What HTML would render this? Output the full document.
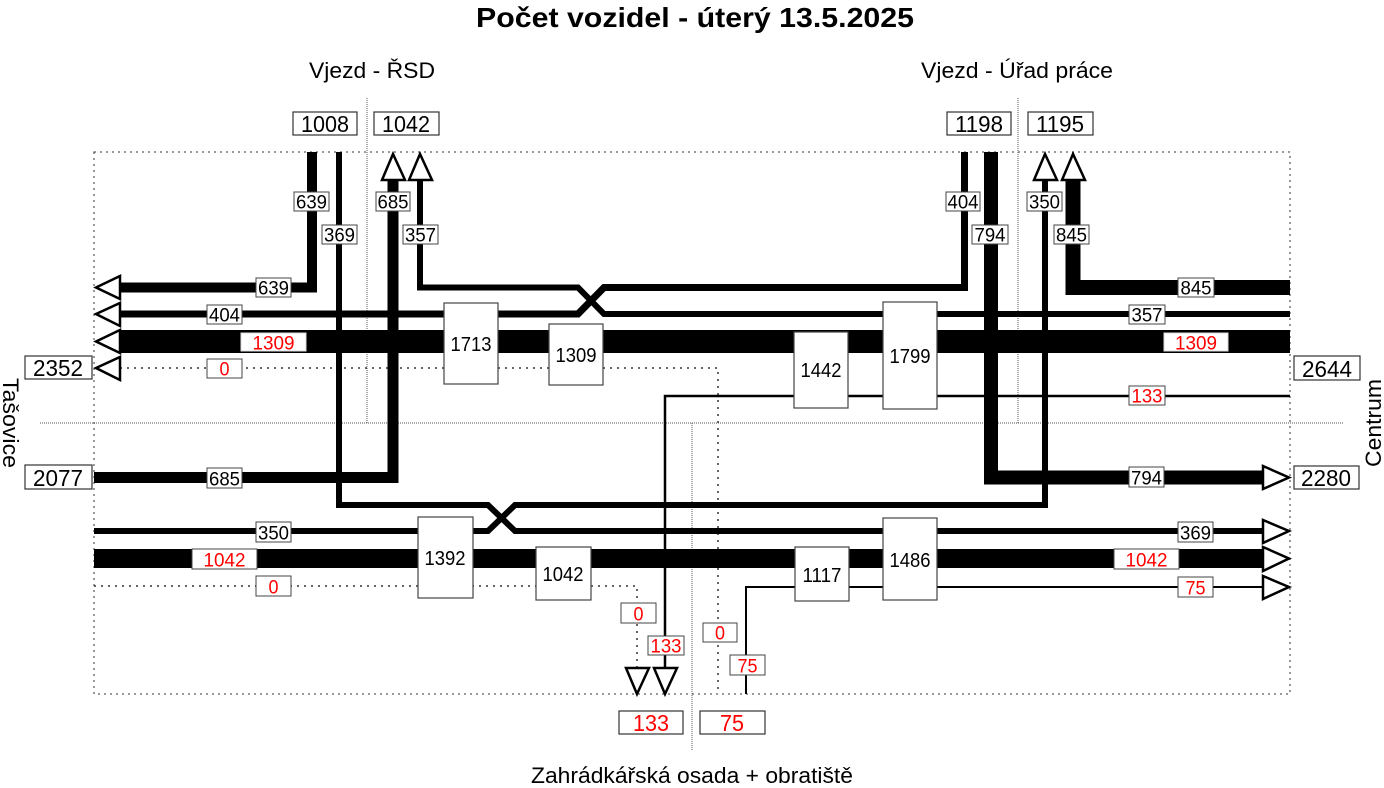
<!DOCTYPE html>
<html><head><meta charset="utf-8"><style>
html,body{margin:0;padding:0;background:#fff;}
svg{display:block;}
text{font-family:"Liberation Sans",Arial,sans-serif;}
</style></head><body>
<svg width="1384" height="788" viewBox="0 0 1384 788" xmlns="http://www.w3.org/2000/svg">
<rect width="1384" height="788" fill="#fff"/>
<text x="695" y="27" font-size="28" font-weight="bold" text-anchor="middle" textLength="438" lengthAdjust="spacingAndGlyphs">Počet vozidel - úterý 13.5.2025</text>
<text x="372" y="78" font-size="22" text-anchor="middle" textLength="126" lengthAdjust="spacingAndGlyphs">Vjezd - ŘSD</text>
<text x="1017" y="78" font-size="22" text-anchor="middle" textLength="192" lengthAdjust="spacingAndGlyphs">Vjezd - Úřad práce</text>
<text x="692" y="783" font-size="22" text-anchor="middle" textLength="322" lengthAdjust="spacingAndGlyphs">Zahrádkářská osada + obratiště</text>
<text transform="translate(3,423) rotate(90)" font-size="22" text-anchor="middle" textLength="90" lengthAdjust="spacingAndGlyphs">Tašovice</text>
<text transform="translate(1381,423) rotate(-90)" font-size="22" text-anchor="middle" textLength="88" lengthAdjust="spacingAndGlyphs">Centrum</text>

<g fill="none" stroke="#333" stroke-width="1" stroke-dasharray="2,4">
<rect x="94" y="152" width="1196" height="542"/>
</g>
<g fill="none" stroke="#555" stroke-width="1" stroke-dasharray="1,1">
<line x1="367" y1="98" x2="367" y2="423"/>
<line x1="1018" y1="98" x2="1018" y2="423"/>
<line x1="40" y1="423" x2="1344" y2="423"/>
<line x1="692" y1="423" x2="692" y2="750"/>
</g>

<g fill="none" stroke="#333" stroke-width="1.5" stroke-dasharray="2,5">
<path d="M120,368 H718 V694"/>
<path d="M94,586 H637 V667"/>
</g>

<g fill="none" stroke="#000" stroke-linejoin="miter">
<path d="M312,152 V287.5 H120" stroke-width="10"/>
<path d="M339,152 V505 H488 L515,531 H1262" stroke-width="6"/>
<path d="M393,180 V477.5 H94" stroke-width="11"/>
<path d="M420,180 V287.5 H578 L604,314 H1290" stroke-width="6"/>
<path d="M964.5,152 V287.5 H604 L578,314 H120" stroke-width="7"/>
<path d="M991,152 V477.5 H1262" stroke-width="14"/>
<path d="M1045,180 V505 H515 L488,531 H94" stroke-width="6"/>
<path d="M1073,180 V287.5 H1290" stroke-width="15"/>
<path d="M120,341.5 H1290" stroke-width="23"/>
<path d="M94,558.5 H1262" stroke-width="19"/>
<path d="M1290,396 H665 V667" stroke-width="2.5"/>
<path d="M1262,587 H746 V694" stroke-width="2"/>
</g>

<g fill="#fff" stroke="#000" stroke-width="2.5" stroke-linejoin="miter">
<polygon points="96,287.5 120,276 120,299"/>
<polygon points="96,314 120,303 120,326"/>
<polygon points="96,341.5 120,330 120,353"/>
<polygon points="96,368 120,357 120,380"/>
<polygon points="1289,477.5 1263,466 1263,489"/>
<polygon points="1289,531 1263,520 1263,543"/>
<polygon points="1289,558.5 1263,547 1263,571"/>
<polygon points="1289,587 1263,576 1263,599"/>
<polygon points="393,154 382,180 405,180"/>
<polygon points="420,154 409,180 432,180"/>
<polygon points="1045,154 1034,180 1057,180"/>
<polygon points="1073,154 1062,180 1085,180"/>
<polygon points="637,694 626,668 649,668"/>
<polygon points="665,694 654,668 677,668"/>
</g>

<g fill="#fff" stroke="#444" stroke-width="1.2">
<rect x="444" y="303" width="54" height="81"/>
<rect x="549" y="324" width="54" height="61"/>
<rect x="794" y="332" width="54" height="76"/>
<rect x="883" y="302" width="54" height="107"/>
<rect x="418" y="517" width="55" height="81"/>
<rect x="536" y="547" width="55" height="53"/>
<rect x="795" y="547" width="54" height="54"/>
<rect x="883" y="518" width="54" height="82"/>
</g>
<g font-size="20" text-anchor="middle">
<text x="471" y="351" textLength="41" lengthAdjust="spacingAndGlyphs">1713</text>
<text x="576" y="362" textLength="41" lengthAdjust="spacingAndGlyphs">1309</text>
<text x="821" y="377" textLength="41" lengthAdjust="spacingAndGlyphs">1442</text>
<text x="910" y="363" textLength="41" lengthAdjust="spacingAndGlyphs">1799</text>
<text x="445" y="565" textLength="41" lengthAdjust="spacingAndGlyphs">1392</text>
<text x="563" y="581" textLength="41" lengthAdjust="spacingAndGlyphs">1042</text>
<text x="822" y="582" textLength="39" lengthAdjust="spacingAndGlyphs">1117</text>
<text x="910" y="567" textLength="41" lengthAdjust="spacingAndGlyphs">1486</text>
</g>

<g fill="#fff" stroke="#333" stroke-width="1.2">
<rect x="293" y="112" width="64" height="23"/>
<rect x="374" y="112" width="65" height="23"/>
<rect x="947" y="112" width="64" height="23"/>
<rect x="1028" y="112" width="65" height="23"/>
<rect x="25" y="356" width="67" height="23"/>
<rect x="25" y="465" width="67" height="24"/>
<rect x="1294" y="356" width="66" height="24"/>
<rect x="1294" y="466" width="65" height="23"/>
<rect x="619" y="711" width="64" height="23"/>
<rect x="700" y="711" width="65" height="23"/>
</g>
<g font-size="23" text-anchor="middle">
<text x="325" y="132" textLength="48" lengthAdjust="spacingAndGlyphs">1008</text>
<text x="406" y="132" textLength="48" lengthAdjust="spacingAndGlyphs">1042</text>
<text x="979" y="132" textLength="48" lengthAdjust="spacingAndGlyphs">1198</text>
<text x="1060" y="132" textLength="48" lengthAdjust="spacingAndGlyphs">1195</text>
<text x="58" y="376" textLength="50" lengthAdjust="spacingAndGlyphs">2352</text>
<text x="58" y="486" textLength="50" lengthAdjust="spacingAndGlyphs">2077</text>
<text x="1327" y="377" textLength="50" lengthAdjust="spacingAndGlyphs">2644</text>
<text x="1326" y="486" textLength="50" lengthAdjust="spacingAndGlyphs">2280</text>
<text x="651" y="731" fill="#f00" textLength="36" lengthAdjust="spacingAndGlyphs">133</text>
<text x="732" y="731" fill="#f00" textLength="24" lengthAdjust="spacingAndGlyphs">75</text>
</g>

<g fill="#fff" stroke="#444" stroke-width="1">
<rect x="294" y="192" width="35" height="19"/>
<rect x="322" y="225" width="35" height="19"/>
<rect x="376" y="192" width="34" height="19"/>
<rect x="403" y="225" width="35" height="19"/>
<rect x="256" y="278" width="35" height="19"/>
<rect x="207" y="305" width="35" height="19"/>
<rect x="241" y="333" width="65" height="18" stroke="#ddd"/>
<rect x="207" y="359" width="35" height="19"/>
<rect x="946" y="192" width="34" height="19"/>
<rect x="972" y="225" width="36" height="19"/>
<rect x="1027" y="192" width="35" height="19"/>
<rect x="1054" y="225" width="35" height="19"/>
<rect x="1178" y="278" width="36" height="19"/>
<rect x="1129" y="305" width="36" height="19"/>
<rect x="1164" y="333" width="64" height="18" stroke="#ddd"/>
<rect x="1129" y="386" width="36" height="19"/>
<rect x="207" y="468" width="35" height="20"/>
<rect x="1129" y="467" width="35" height="20"/>
<rect x="256" y="522" width="35" height="20"/>
<rect x="1178" y="522" width="35" height="20"/>
<rect x="192" y="549" width="65" height="20"/>
<rect x="1114" y="549" width="65" height="20"/>
<rect x="256" y="576" width="35" height="20"/>
<rect x="1178" y="577" width="35" height="20"/>
<rect x="621" y="603" width="35" height="20"/>
<rect x="648" y="636" width="36" height="19"/>
<rect x="703" y="623" width="34" height="19"/>
<rect x="730" y="655" width="35" height="20"/>
</g>
<g font-size="19.5" text-anchor="middle">
<text x="311.5" y="208.5" textLength="31" lengthAdjust="spacingAndGlyphs">639</text>
<text x="339.5" y="241.5" textLength="31" lengthAdjust="spacingAndGlyphs">369</text>
<text x="393" y="208.5" textLength="31" lengthAdjust="spacingAndGlyphs">685</text>
<text x="420.5" y="241.5" textLength="31" lengthAdjust="spacingAndGlyphs">357</text>
<text x="273.5" y="294.5" textLength="31" lengthAdjust="spacingAndGlyphs">639</text>
<text x="224.5" y="321.5" textLength="31" lengthAdjust="spacingAndGlyphs">404</text>
<text x="273.5" y="349.5" fill="#f00" textLength="42" lengthAdjust="spacingAndGlyphs">1309</text>
<text x="224.5" y="375.5" fill="#f00" textLength="10" lengthAdjust="spacingAndGlyphs">0</text>
<text x="963" y="208.5" textLength="31" lengthAdjust="spacingAndGlyphs">404</text>
<text x="990" y="241.5" textLength="31" lengthAdjust="spacingAndGlyphs">794</text>
<text x="1044.5" y="208.5" textLength="31" lengthAdjust="spacingAndGlyphs">350</text>
<text x="1071.5" y="241.5" textLength="31" lengthAdjust="spacingAndGlyphs">845</text>
<text x="1196" y="294.5" textLength="31" lengthAdjust="spacingAndGlyphs">845</text>
<text x="1147" y="321.5" textLength="31" lengthAdjust="spacingAndGlyphs">357</text>
<text x="1196" y="349.5" fill="#f00" textLength="42" lengthAdjust="spacingAndGlyphs">1309</text>
<text x="1147" y="402.5" fill="#f00" textLength="31" lengthAdjust="spacingAndGlyphs">133</text>
<text x="224.5" y="485.5" textLength="31" lengthAdjust="spacingAndGlyphs">685</text>
<text x="1146.5" y="484.5" textLength="31" lengthAdjust="spacingAndGlyphs">794</text>
<text x="273.5" y="539.5" textLength="31" lengthAdjust="spacingAndGlyphs">350</text>
<text x="1195.5" y="539.5" textLength="31" lengthAdjust="spacingAndGlyphs">369</text>
<text x="224.5" y="566.5" fill="#f00" textLength="42" lengthAdjust="spacingAndGlyphs">1042</text>
<text x="1146.5" y="566.5" fill="#f00" textLength="42" lengthAdjust="spacingAndGlyphs">1042</text>
<text x="273.5" y="593.5" fill="#f00" textLength="10" lengthAdjust="spacingAndGlyphs">0</text>
<text x="1195.5" y="594.5" fill="#f00" textLength="20" lengthAdjust="spacingAndGlyphs">75</text>
<text x="638.5" y="620.5" fill="#f00" textLength="10" lengthAdjust="spacingAndGlyphs">0</text>
<text x="666" y="652.5" fill="#f00" textLength="31" lengthAdjust="spacingAndGlyphs">133</text>
<text x="720" y="639.5" fill="#f00" textLength="10" lengthAdjust="spacingAndGlyphs">0</text>
<text x="747.5" y="672.5" fill="#f00" textLength="20" lengthAdjust="spacingAndGlyphs">75</text>
</g>
</svg>
</body></html>
